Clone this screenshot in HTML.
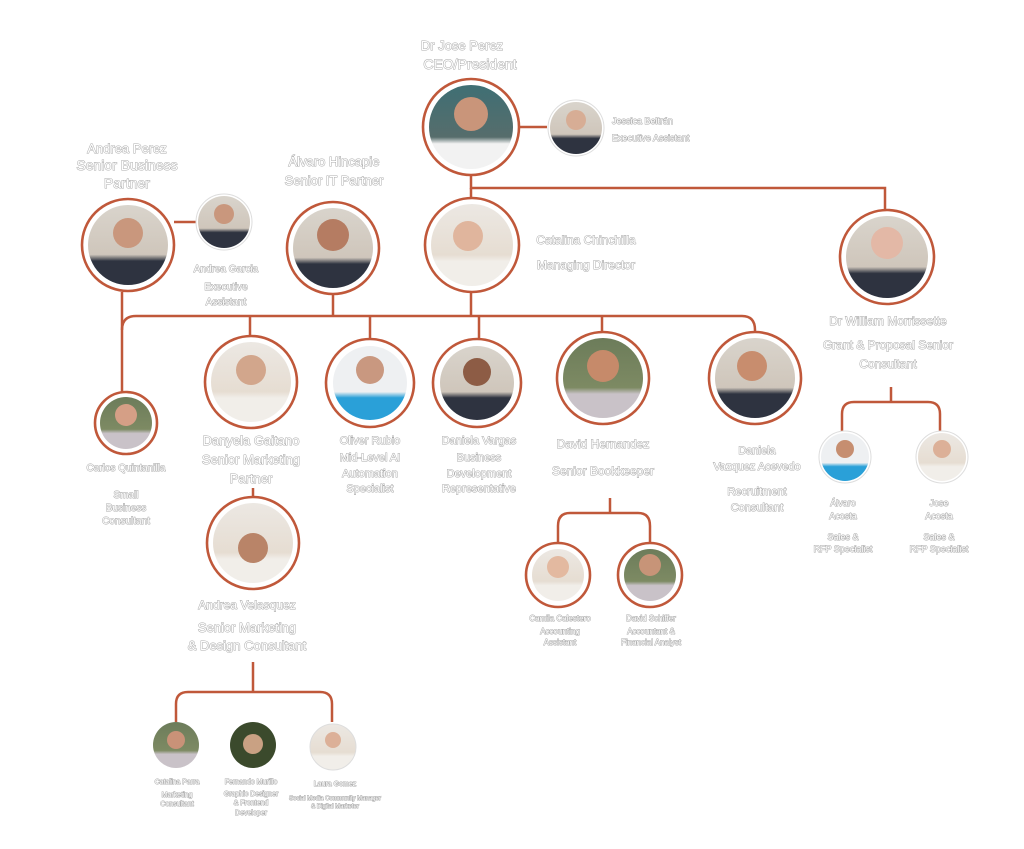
<!DOCTYPE html>
<html><head><meta charset="utf-8"><style>
html,body{margin:0;padding:0;background:#fff;width:1024px;height:849px;overflow:hidden}
svg text{font-family:"Liberation Sans",sans-serif;fill:#fff;stroke:#aaa;stroke-width:1px;paint-order:stroke;text-anchor:middle;font-weight:normal}
.l{fill:none;stroke:#c0583a;stroke-width:2.5}
.ring{fill:#fff;stroke:#c0583a;stroke-width:2.6}
</style></head><body>
<svg width="1024" height="849" viewBox="0 0 1024 849" xmlns="http://www.w3.org/2000/svg">
<defs>
<linearGradient id="gd" x1="0" y1="0" x2="0" y2="1"><stop offset="0" stop-color="#d9d4cc"/><stop offset="0.62" stop-color="#cfc6bb"/><stop offset="0.7" stop-color="#2e3340"/><stop offset="1" stop-color="#2e3340"/></linearGradient>
<linearGradient id="gl" x1="0" y1="0" x2="0" y2="1"><stop offset="0" stop-color="#ece8e3"/><stop offset="0.62" stop-color="#e6ddd2"/><stop offset="0.7" stop-color="#f1eee9"/><stop offset="1" stop-color="#f1eee9"/></linearGradient>
<linearGradient id="gg" x1="0" y1="0" x2="0" y2="1"><stop offset="0" stop-color="#6c7c5a"/><stop offset="0.62" stop-color="#7d8a63"/><stop offset="0.7" stop-color="#c9c2c8"/><stop offset="1" stop-color="#c9c2c8"/></linearGradient>
<linearGradient id="gb" x1="0" y1="0" x2="0" y2="1"><stop offset="0" stop-color="#eef0f2"/><stop offset="0.62" stop-color="#eef0f2"/><stop offset="0.7" stop-color="#2aa0d8"/><stop offset="1" stop-color="#2aa0d8"/></linearGradient>
<linearGradient id="gt" x1="0" y1="0" x2="0" y2="1"><stop offset="0" stop-color="#3f6f74"/><stop offset="0.62" stop-color="#566d6c"/><stop offset="0.7" stop-color="#f2f2f2"/><stop offset="1" stop-color="#f2f2f2"/></linearGradient>
</defs>

<path class="l" d="M471 175 V188 H885 V210"/>
<path class="l" d="M471 188 V199"/>
<path class="l" d="M519 127 H547"/>
<path class="l" d="M174 222 H198"/>
<path class="l" d="M122 292 V393"/>
<path class="l" d="M122 330 Q122 316 136 316 H742 Q755 316 755 330 V333"/>
<path class="l" d="M333 295 V316 M471 292 V316 M250 316 V335 M370 316 V340 M479 316 V340 M602 316 V333"/>
<path class="l" d="M253 488 V497"/>
<path class="l" d="M253 662 V692 M176 722 V704 Q176 692 188 692 H320 Q332 692 332 704 V722"/>
<path class="l" d="M610 498 V513 M558 545 V526 Q558 513 570 513 H638 Q650 513 650 526 V545"/>
<path class="l" d="M891 387 V402 M842 432 V414 Q842 402 854 402 H928 Q940 402 940 414 V432"/>

<g>
<circle class="ring" cx="471" cy="127" r="48"/><circle cx="471" cy="127" r="42" fill="url(#gt)"/><circle cx="471" cy="114" r="17" fill="#c9957a"/>
<circle cx="576" cy="128" r="28" fill="#fff" stroke="#ddd"/><circle cx="576" cy="128" r="26" fill="url(#gd)"/><circle cx="576" cy="120" r="10" fill="#d7ad95"/>
<circle class="ring" cx="128" cy="245" r="46"/><circle cx="128" cy="245" r="40" fill="url(#gd)"/><circle cx="128" cy="233" r="15" fill="#c9977d"/>
<circle cx="224" cy="222" r="28" fill="#fff" stroke="#ddd"/><circle cx="224" cy="222" r="26" fill="url(#gd)"/><circle cx="224" cy="214" r="10" fill="#c9977d"/>
<circle class="ring" cx="333" cy="248" r="46"/><circle cx="333" cy="248" r="40" fill="url(#gd)"/><circle cx="333" cy="235" r="16" fill="#b57c62"/>
<circle class="ring" cx="472" cy="245" r="47"/><circle cx="472" cy="245" r="41" fill="url(#gl)"/><circle cx="468" cy="236" r="15" fill="#e0b59d"/>
<circle class="ring" cx="887" cy="257" r="47"/><circle cx="887" cy="257" r="41" fill="url(#gd)"/><circle cx="887" cy="243" r="16" fill="#e3b8a6"/>
<circle class="ring" cx="126" cy="423" r="31"/><circle cx="126" cy="423" r="26" fill="url(#gg)"/><circle cx="126" cy="415" r="11" fill="#d59f86"/>
<circle class="ring" cx="251" cy="382" r="46"/><circle cx="251" cy="382" r="40" fill="url(#gl)"/><circle cx="251" cy="370" r="15" fill="#d2a68c"/>
<circle class="ring" cx="370" cy="383" r="44"/><circle cx="370" cy="383" r="37" fill="url(#gb)"/><circle cx="370" cy="370" r="14" fill="#c99880"/>
<circle class="ring" cx="477" cy="383" r="44"/><circle cx="477" cy="383" r="37" fill="url(#gd)"/><circle cx="477" cy="372" r="14" fill="#8d5c45"/>
<circle class="ring" cx="603" cy="378" r="46"/><circle cx="603" cy="378" r="40" fill="url(#gg)"/><circle cx="603" cy="366" r="16" fill="#c68a6a"/>
<circle class="ring" cx="755" cy="378" r="46"/><circle cx="755" cy="378" r="40" fill="url(#gd)"/><circle cx="752" cy="366" r="15" fill="#c88d6e"/>
<circle class="ring" cx="253" cy="543" r="46"/><circle cx="253" cy="543" r="40" fill="url(#gl)"/><circle cx="253" cy="548" r="15" fill="#b98468"/>
<circle class="ring" cx="558" cy="575" r="32"/><circle cx="558" cy="575" r="26" fill="url(#gl)"/><circle cx="558" cy="567" r="11" fill="#e3b9a0"/>
<circle class="ring" cx="650" cy="575" r="32"/><circle cx="650" cy="575" r="26" fill="url(#gg)"/><circle cx="650" cy="565" r="11" fill="#c79478"/>
<circle cx="845" cy="457" r="26" fill="#fff" stroke="#ddd"/><circle cx="845" cy="457" r="24" fill="url(#gb)"/><circle cx="845" cy="449" r="9" fill="#c68e70"/>
<circle cx="942" cy="457" r="26" fill="#fff" stroke="#ddd"/><circle cx="942" cy="457" r="24" fill="url(#gl)"/><circle cx="942" cy="449" r="9" fill="#dcb098"/>
<circle cx="176" cy="745" r="23" fill="url(#gg)"/><circle cx="176" cy="740" r="9" fill="#c99278"/>
<circle cx="253" cy="745" r="23" fill="#3b4a2c"/><circle cx="253" cy="744" r="10" fill="#c9a183"/>
<circle cx="333" cy="747" r="23" fill="url(#gl)" stroke="#ddd"/><circle cx="333" cy="740" r="8" fill="#dcb098"/>
</g>

<g>
<text x="462" y="50" font-size="13">Dr Jose Perez</text>
<text x="470" y="69" font-size="14">CEO/President</text>
<text x="612" y="124" font-size="9" style="text-anchor:start">Jessica Beltrán</text>
<text x="612" y="141" font-size="9" style="text-anchor:start">Executive Assistant</text>
<text x="127" y="153" font-size="13">Andrea Perez</text>
<text x="127" y="170" font-size="14">Senior Business</text>
<text x="127" y="188" font-size="14">Partner</text>
<text x="226" y="272" font-size="10">Andrea Garcia</text>
<text x="226" y="290" font-size="10">Executive</text>
<text x="226" y="305" font-size="10">Assistant</text>
<text x="334" y="166" font-size="13">Álvaro Hincapie</text>
<text x="334" y="185" font-size="13">Senior IT Partner</text>
<text x="586" y="244" font-size="12">Catalina Chinchilla</text>
<text x="586" y="269" font-size="12">Managing Director</text>
<text x="888" y="325" font-size="12">Dr William Morrissette</text>
<text x="888" y="349" font-size="12">Grant &amp; Proposal Senior</text>
<text x="888" y="368" font-size="12">Consultant</text>
<text x="126" y="471" font-size="10">Carlos Quintanilla</text>
<text x="126" y="498" font-size="10">Small</text>
<text x="126" y="511" font-size="10">Business</text>
<text x="126" y="524" font-size="10">Consultant</text>
<text x="251" y="445" font-size="13">Danyela Gaitano</text>
<text x="251" y="464" font-size="13">Senior Marketing</text>
<text x="251" y="483" font-size="13">Partner</text>
<text x="370" y="444" font-size="11">Oliver Rubio</text>
<text x="370" y="461" font-size="11">Mid-Level AI</text>
<text x="370" y="477" font-size="11">Automation</text>
<text x="370" y="492" font-size="11">Specialist</text>
<text x="479" y="444" font-size="11">Daniela Vargas</text>
<text x="479" y="461" font-size="11">Business</text>
<text x="479" y="477" font-size="11">Development</text>
<text x="479" y="492" font-size="11">Representative</text>
<text x="603" y="448" font-size="12">David Hernandez</text>
<text x="603" y="475" font-size="12">Senior Bookkeeper</text>
<text x="757" y="454" font-size="11">Daniela</text>
<text x="757" y="470" font-size="11">Vazquez Acevedo</text>
<text x="757" y="495" font-size="11">Recruitment</text>
<text x="757" y="511" font-size="11">Consultant</text>
<text x="843" y="506" font-size="9">Álvaro</text>
<text x="843" y="519" font-size="9">Acosta</text>
<text x="843" y="540" font-size="9">Sales &amp;</text>
<text x="843" y="552" font-size="9">RFP Specialist</text>
<text x="939" y="506" font-size="9">Jose</text>
<text x="939" y="519" font-size="9">Acosta</text>
<text x="939" y="540" font-size="9">Sales &amp;</text>
<text x="939" y="552" font-size="9">RFP Specialist</text>
<text x="560" y="621" font-size="8">Camila Calestero</text>
<text x="560" y="634" font-size="8">Accounting</text>
<text x="560" y="645" font-size="8">Assistant</text>
<text x="651" y="621" font-size="8">David Schiffer</text>
<text x="651" y="634" font-size="8">Accountant &amp;</text>
<text x="651" y="645" font-size="8">Financial Analyst</text>
<text x="247" y="609" font-size="12">Andrea Velasquez</text>
<text x="247" y="632" font-size="13">Senior Marketing</text>
<text x="247" y="650" font-size="13">&amp; Design Consultant</text>
<text x="177" y="784" font-size="7">Catalina Parra</text>
<text x="177" y="797" font-size="7">Marketing</text>
<text x="177" y="806" font-size="7">Consultant</text>
<text x="251" y="784" font-size="7">Fernando Murillo</text>
<text x="251" y="796" font-size="7">Graphic Designer</text>
<text x="251" y="805" font-size="7">&amp; Frontend</text>
<text x="251" y="815" font-size="7">Developer</text>
<text x="335" y="786" font-size="7">Laura Gomez</text>
<text x="335" y="800" font-size="6">Social Media Community Manager</text>
<text x="335" y="808" font-size="6">&amp; Digital Marketer</text>
</g>
</svg>
</body></html>
